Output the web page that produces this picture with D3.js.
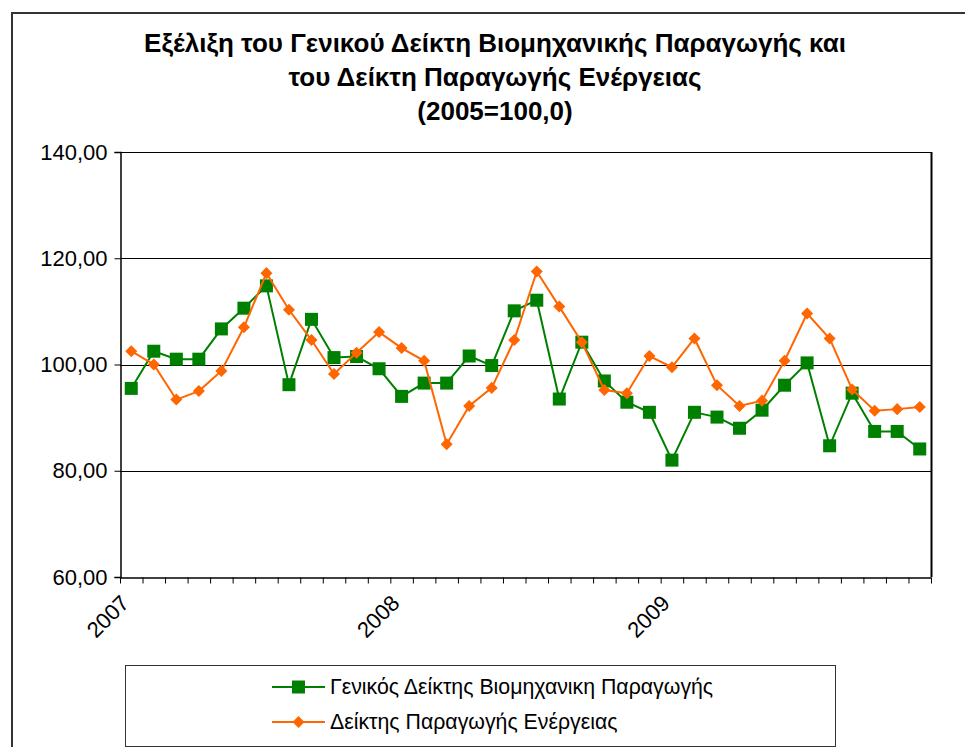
<!DOCTYPE html>
<html>
<head>
<meta charset="utf-8">
<script src="https://cdn.jsdelivr.net/npm/d3@7"></script>
<style>
	body { margin: 0; background: #fff; }
	svg { display: block; font-family: "Liberation Sans", Arial, sans-serif; }
</style>
</head>
<body>
<div id="chart"></div>
<script>
// monthly values, Jan 2007 - Dec 2009
const years = ["2007", "2008", "2009"];
const months = years.flatMap(y => d3.range(1, 13).map(m => `${y}-${String(m).padStart(2, "0")}`));
const industrial = [
	95.5, 102.5, 101.0, 101.0, 106.7, 110.6, 114.8, 96.2, 108.5, 101.3, 101.5, 99.2,
	94.0, 96.5, 96.5, 101.6, 99.8, 110.1, 112.1, 93.5, 104.2, 96.9, 92.9, 91.0,
	82.0, 91.0, 90.1, 88.0, 91.4, 96.1, 100.3, 84.7, 94.6, 87.4, 87.4, 84.1
];
const energy = [
	102.5, 100.0, 93.4, 95.0, 98.8, 107.0, 117.2, 110.3, 104.6, 98.2, 102.2, 106.1,
	103.1, 100.7, 85.0, 92.2, 95.6, 104.6, 117.5, 110.9, 104.2, 95.2, 94.6, 101.6,
	99.5, 104.9, 96.1, 92.2, 93.2, 100.7, 109.6, 104.9, 95.3, 91.3, 91.6, 92.0
];
const yTicks = [60, 80, 100, 120, 140];
const seriesNames = ["Γενικός Δείκτης Βιομηχανικη Παραγωγής", "Δείκτης Παραγωγής Ενέργειας"];
const titleLines = [
	"Εξέλιξη του Γενικού Δείκτη Βιομηχανικής Παραγωγής και",
	"του Δείκτη Παραγωγής Ενέργειας",
	"(2005=100,0)"
];

const width = 965, height = 747;
const plot = {left: 120, right: 931, top: 152, bottom: 577};

const svg = d3.select("#chart")
	.append("svg")
		.attr("width", width)
		.attr("height", height);

svg.append("rect")
	.attr("width", width)
	.attr("height", height)
	.attr("fill", "#fff");

// outer chart frame (left and top edges visible)
svg.append("path")
	.attr("d", `M12,${height} V13 H${width}`)
	.attr("fill", "none")
	.attr("stroke", "#333")
	.attr("stroke-width", 2);

// title
svg.append("text")
	.attr("text-anchor", "middle")
	.attr("font-weight", "bold")
	.attr("font-size", 26)
	.attr("fill", "#000")
	.selectAll("tspan")
	.data(titleLines)
	.join("tspan")
		.attr("x", 495)
		.attr("y", (d, i) => 52 + i * 34)
		.text(d => d);

const x = d3.scaleLinear()
	.domain([0, months.length])
	.range([plot.left, plot.right]);

const y = d3.scaleLinear()
	.domain([60, 140])
	.range([plot.bottom, plot.top]);

// gridlines
svg.append("g")
	.attr("class", "grid")
	.selectAll("line")
	.data(yTicks.slice(1))
	.join("line")
		.attr("x1", plot.left)
		.attr("x2", plot.right)
		.attr("y1", d => Math.round(y(d)) + 0.5)
		.attr("y2", d => Math.round(y(d)) + 0.5)
		.attr("stroke", "#000")
		.attr("stroke-width", 1);

// right border of plot area
svg.append("line")
	.attr("x1", plot.right + 0.5)
	.attr("x2", plot.right + 0.5)
	.attr("y1", plot.top)
	.attr("y2", plot.bottom)
	.attr("stroke", "#000")
	.attr("stroke-width", 2);

// y axis
const yAxis = svg.append("g")
	.attr("transform", `translate(${plot.left + 0.5},0)`)
	.call(d3.axisLeft(y)
		.tickValues(yTicks)
		.tickSize(6)
		.tickPadding(7)
		.tickFormat(d => d3.format(".2f")(d).replace(".", ",")));
yAxis.select(".domain").attr("stroke", "#000").attr("stroke-width", 1.5);
yAxis.selectAll(".tick line").attr("stroke", "#000");
yAxis.selectAll("text")
	.attr("font-family", "Liberation Sans, Arial, sans-serif")
	.attr("font-size", 22)
	.attr("fill", "#000");

// x axis
const xAxis = svg.append("g")
	.attr("transform", `translate(0,${plot.bottom + 0.5})`)
	.call(d3.axisBottom(x)
		.tickValues(d3.range(months.length + 1))
		.tickSize(6)
		.tickSizeOuter(0)
		.tickFormat(i => i % 12 === 0 && i / 12 < years.length ? years[i / 12] : ""));
xAxis.select(".domain").attr("stroke", "#000").attr("stroke-width", 1.5);
xAxis.selectAll(".tick line").attr("stroke", "#000");
xAxis.selectAll("text")
	.attr("font-family", "Liberation Sans, Arial, sans-serif")
	.attr("font-size", 22)
	.attr("fill", "#000")
	.attr("text-anchor", "end")
	.attr("dy", null)
	.attr("y", 0)
	.attr("transform", "translate(10,27) rotate(-45)");

// series
const cx = (d, i) => x(i + 0.5);
const line = d3.line().x(cx).y(d => y(d));
const diamond = d3.symbol().type(d3.symbolDiamond2).size(2 * 6.8 * 6.8);

const series = [
	{name: seriesNames[0], values: industrial, color: "#008000", marker: "square"},
	{name: seriesNames[1], values: energy, color: "#ff6600", marker: "diamond"}
];

series.forEach(s => {
	const g = svg.append("g").attr("class", "series");
	g.append("path")
		.datum(s.values)
		.attr("d", line)
		.attr("fill", "none")
		.attr("stroke", s.color)
		.attr("stroke-width", 2);
	if(s.marker === "square"){
		g.selectAll("rect")
			.data(s.values)
			.join("rect")
				.attr("x", (d, i) => cx(d, i) - 6.5)
				.attr("y", d => y(d) - 6.5)
				.attr("width", 13)
				.attr("height", 13)
				.attr("fill", s.color);
	}else{
		g.selectAll("path.mk")
			.data(s.values)
			.join("path")
				.attr("class", "mk")
				.attr("d", diamond)
				.attr("transform", (d, i) => `translate(${cx(d, i)},${y(d)})`)
				.attr("fill", s.color);
	}
});

// legend
const legend = svg.append("g").attr("class", "legend");
legend.append("rect")
	.attr("x", 125.5)
	.attr("y", 665.5)
	.attr("width", 710)
	.attr("height", 81)
	.attr("fill", "#fff")
	.attr("stroke", "#333")
	.attr("stroke-width", 1);

const items = legend.selectAll("g.item")
	.data(series)
	.join("g")
		.attr("class", "item")
		.attr("transform", (d, i) => `translate(272,${687 + i * 35})`);

items.append("line")
	.attr("x1", 0)
	.attr("x2", 53)
	.attr("stroke", d => d.color)
	.attr("stroke-width", 2);

items.each(function(d){
	const g = d3.select(this);
	if(d.marker === "square"){
		g.append("rect")
			.attr("x", 20)
			.attr("y", -6.5)
			.attr("width", 13)
			.attr("height", 13)
			.attr("fill", d.color);
	}else{
		g.append("path")
			.attr("d", diamond)
			.attr("transform", "translate(26.5,0)")
			.attr("fill", d.color);
	}
});

items.append("text")
	.attr("x", 58)
	.attr("dy", "0.35em")
	.attr("font-size", 21.3)
	.attr("fill", "#000")
	.text(d => d.name);
</script>
</body>
</html>
